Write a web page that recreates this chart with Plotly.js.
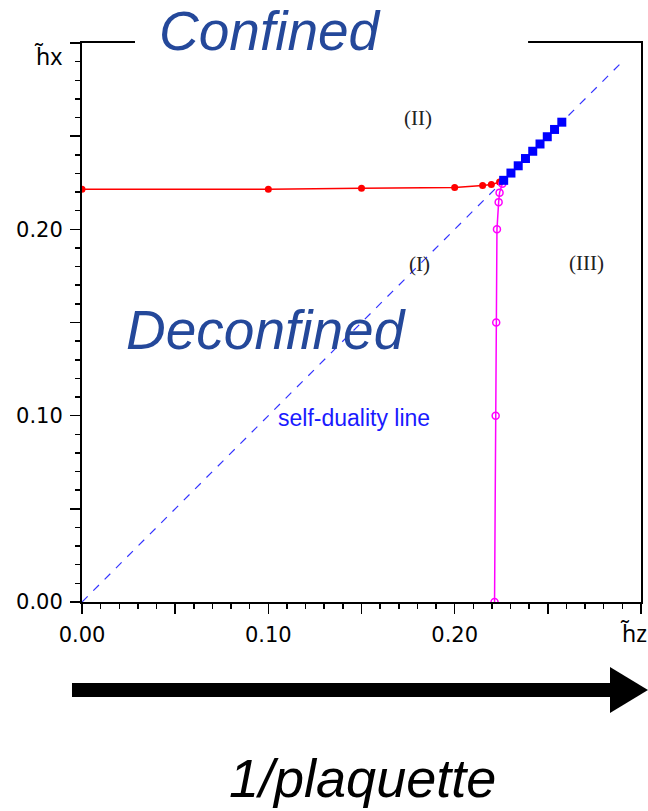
<!DOCTYPE html>
<html>
<head>
<meta charset="utf-8">
<script src="https://cdn.plot.ly/plotly-3.0.1.min.js"></script>
<style>html,body{margin:0;padding:0;background:#fff;}#chart{width:648px;height:811px;}</style>
</head>
<body>
<div id="chart"></div>
<script>
// ---- data ----
var redX = [0.000, 0.100, 0.150, 0.200, 0.2150, 0.2197, 0.2241];
var redY = [0.2215, 0.2215, 0.2220, 0.2225, 0.2235, 0.2240, 0.2254];

var magentaX = [0.2214, 0.2220, 0.2223, 0.2227, 0.2236, 0.2241, 0.2256];
var magentaY = [0.000, 0.0999, 0.1500, 0.2000, 0.2146, 0.2197, 0.2245];

var blueX = [0.2263, 0.2302, 0.2341, 0.2380, 0.2419, 0.2458, 0.2497, 0.2536, 0.2575];
var blueY = [0.2263, 0.2302, 0.2341, 0.2380, 0.2419, 0.2458, 0.2497, 0.2536, 0.2575];

var selfDualX = [0.000, 0.290];
var selfDualY = [0.000, 0.290];

var tickVals = [0.00, 0.05, 0.10, 0.15, 0.20, 0.25, 0.30];
var tickText = ['0.00', '', '0.10', '', '0.20', '', ''];

var regionLabels = ['(II)', '(I)', '(III)'];
var regionX = [0.1805, 0.1810, 0.2710];
var regionY = [0.2598, 0.1815, 0.1818];

// ---- traces ----
var traces = [
  {x: selfDualX, y: selfDualY, mode: 'lines', line: {color: '#3333ff', width: 1.2, dash: '8px,8px'}, hoverinfo: 'skip'},
  {x: redX, y: redY, mode: 'lines+markers', line: {color: '#ff0000', width: 1.5},
   marker: {symbol: 'circle', size: 7, color: '#ff0000'}},
  {x: magentaX, y: magentaY, mode: 'lines+markers', line: {color: '#ff00ff', width: 1.5},
   marker: {symbol: 'circle-open', size: 7, color: '#ff00ff', line: {width: 1.5, color: '#ff00ff'}}},
  {x: blueX, y: blueY, mode: 'lines+markers', line: {color: '#0000ff', width: 1.5},
   marker: {symbol: 'square', size: 9, color: '#0000ff'}}
];

var sans = 'Liberation Sans, Arial, sans-serif';
var annotations = [];
for (var i = 0; i < regionLabels.length; i++) {
  annotations.push({x: regionX[i], y: regionY[i], xref: 'x', yref: 'y', text: regionLabels[i], showarrow: false,
    xanchor: 'center', yanchor: 'middle',
    font: {family: 'Liberation Serif, serif', size: 21, color: '#222222'}});
}
annotations.push(
  {x: 0.146, y: 0.0985, xref: 'x', yref: 'y', text: 'self-duality line', showarrow: false,
   xanchor: 'center', yanchor: 'middle',
   font: {family: sans, size: 23, color: '#1a1aff'}},
  {x: 0.0988, y: 0.1458, xref: 'x', yref: 'y', text: 'Deconfined', showarrow: false,
   xanchor: 'center', yanchor: 'middle',
   font: {family: sans, size: 55, color: '#24489a', style: 'italic'}},
  {x: 0.338, y: 1.0215, xref: 'paper', yref: 'paper', text: 'Confined', showarrow: false,
   xanchor: 'center', yanchor: 'middle',
   font: {family: sans, size: 55, color: '#24489a', style: 'italic'}},
  // axis labels
  {x: -0.061, y: 0.976, xref: 'paper', yref: 'paper', text: 'h\u0303x', showarrow: false,
   xanchor: 'center', yanchor: 'middle',
   font: {family: 'Noto Sans, sans-serif', size: 23, color: '#000'}},
  {x: 0.986, y: -0.056, xref: 'paper', yref: 'paper', text: 'h\u0303z', showarrow: false,
   xanchor: 'center', yanchor: 'middle',
   font: {family: 'Noto Sans, sans-serif', size: 23, color: '#000'}},
  {x: 0.501, y: -0.3155, xref: 'paper', yref: 'paper', text: '1/plaquette', showarrow: false,
   xanchor: 'center', yanchor: 'middle',
   font: {family: sans, size: 54, color: '#000', style: 'italic'}}
);

var shapes = [
  // white gap in the top frame line behind "Confined"
  {type: 'rect', xref: 'paper', yref: 'paper', x0: 0.0948, x1: 0.798, y0: 0.99, y1: 1.01,
   fillcolor: '#ffffff', line: {width: 0}, layer: 'above'},
  // big arrow below the plot
  {type: 'line', xref: 'paper', yref: 'paper', x0: -0.0179, x1: 0.95, y0: -0.1574, y1: -0.1574,
   line: {color: '#000', width: 14}, layer: 'above'},
  {type: 'path', xref: 'paper', yref: 'paper', path: 'M 0.9445 -0.1163 L 1.0125 -0.1574 L 0.9445 -0.1986 Z',
   fillcolor: '#000', line: {color: '#000', width: 0}, layer: 'above'}
];

function axis(standoff) {
  return {
    range: [0, 0.30], tickmode: 'array', tickvals: tickVals, ticktext: tickText,
    ticks: 'outside', ticklen: 10, tickwidth: 1.5, tickcolor: '#000',
    showline: true, linecolor: '#000', linewidth: 2, mirror: true,
    showgrid: false, zeroline: false, fixedrange: true,
    ticklabelstandoff: standoff,
    tickfont: {family: 'DejaVu Sans, sans-serif', size: 21, color: '#000'},
    minor: {tickmode: 'linear', tick0: 0, dtick: 0.01, ticks: 'outside', ticklen: 5, tickwidth: 1.5, tickcolor: '#000', showgrid: false}
  };
}

var layout = {
  width: 648, height: 811,
  margin: {l: 82, r: 7, t: 43, b: 209},
  paper_bgcolor: '#fff', plot_bgcolor: '#fff',
  showlegend: false, hovermode: false,
  xaxis: axis(3),
  yaxis: axis(3),
  annotations: annotations,
  shapes: shapes
};

Plotly.newPlot('chart', traces, layout, {displayModeBar: false, staticPlot: true});
</script>
</body>
</html>
